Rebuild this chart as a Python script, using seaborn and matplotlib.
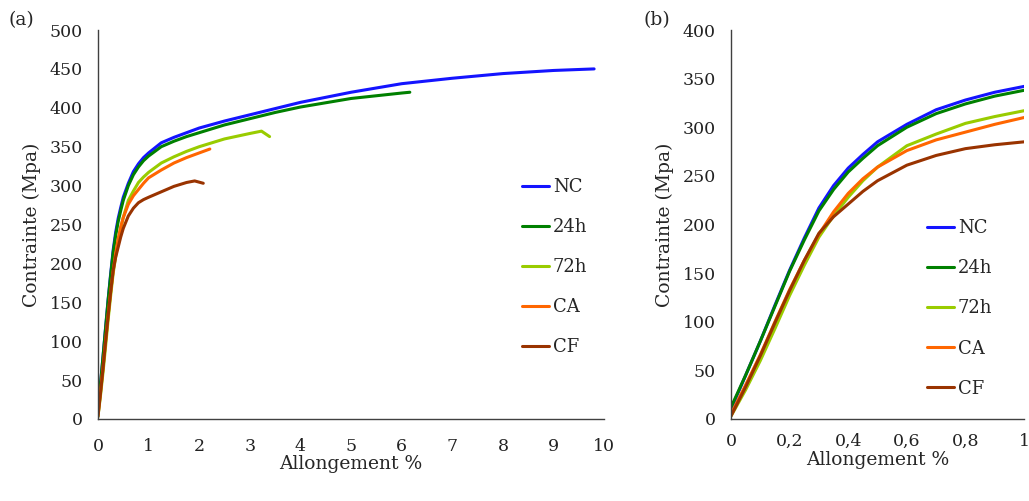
import pandas as pd
import matplotlib.pyplot as plt
import seaborn as sns

# strain (%) / stress (MPa)
nc_strain = [0, 0.05, 0.1, 0.15, 0.2, 0.25, 0.3, 0.35, 0.4, 0.45, 0.5, 0.6, 0.7, 0.8, 0.9, 1.0,
             1.25, 1.5, 1.75, 2, 2.5, 3, 3.5, 4, 5, 6, 7, 8, 9, 9.8]
nc_stress = [10, 45, 80, 117, 153, 186, 217, 240, 258, 272, 285, 303, 318, 328, 336, 342,
             355, 362, 368, 374, 383, 391, 399, 407, 420, 431, 438, 444, 448, 450]

h24_strain = [0, 0.05, 0.1, 0.15, 0.2, 0.25, 0.3, 0.35, 0.4, 0.45, 0.5, 0.6, 0.7, 0.8, 0.9, 1.0,
              1.25, 1.5, 1.75, 2, 2.5, 3, 3.5, 4, 5, 6, 6.16]
h24_stress = [12, 45, 80, 116, 152, 184, 214, 236, 254, 268, 281, 300, 314, 324, 332, 338,
              350, 357, 363, 368, 378, 386, 394, 401, 412, 419, 420]

h72_strain = [0, 0.05, 0.1, 0.15, 0.2, 0.25, 0.3, 0.35, 0.4, 0.45, 0.5, 0.6, 0.7, 0.8, 0.9, 1.0,
              1.25, 1.5, 1.75, 2, 2.5, 3, 3.23, 3.39]
h72_stress = [3, 30, 60, 93, 127, 158, 187, 209, 228, 245, 259, 281, 293, 304, 311, 317,
              329, 337, 344, 350, 360, 367, 370, 363]

ca_strain = [0, 0.05, 0.1, 0.15, 0.2, 0.25, 0.3, 0.35, 0.4, 0.45, 0.5, 0.6, 0.7, 0.8, 0.9, 1.0,
             1.25, 1.5, 1.75, 2, 2.21]
ca_stress = [5, 35, 66, 100, 133, 163, 190, 213, 232, 247, 259, 276, 287, 295, 303, 310,
             320, 329, 336, 342, 347]

cf_strain = [0, 0.05, 0.1, 0.15, 0.2, 0.25, 0.3, 0.35, 0.4, 0.45, 0.5, 0.6, 0.7, 0.8, 0.9, 1.0,
             1.25, 1.5, 1.75, 1.91, 2.08]
cf_stress = [3, 33, 65, 99, 132, 163, 191, 208, 221, 234, 245, 261, 271, 278, 282, 285,
             292, 299, 304, 306, 303]

series = ["NC", "24h", "72h", "CA", "CF"]
colors = ["#1414ff", "#008000", "#99cc00", "#ff6600", "#993300"]


def build_df():
    parts = []
    data = [(nc_strain, nc_stress), (h24_strain, h24_stress), (h72_strain, h72_stress),
            (ca_strain, ca_stress), (cf_strain, cf_stress)]
    for name, (x, y) in zip(series, data):
        parts.append(pd.DataFrame({"strain": x, "stress": y, "serie": name}))
    return pd.concat(parts, ignore_index=True)


def style_axis(ax, xpad, ypad, xlabelpad):
    sns.despine(ax=ax)
    for s in ["left", "bottom"]:
        ax.spines[s].set_color("#404040")
        ax.spines[s].set_linewidth(1.0)
    ax.tick_params(axis="both", direction="out", length=4, width=1, color="#404040",
                   labelsize=12.5, labelcolor="#222222")
    ax.tick_params(axis="x", pad=xpad)
    ax.tick_params(axis="y", pad=ypad)
    ax.set_ylabel("Contrainte (Mpa)", fontsize=13.5, labelpad=6)
    ax.set_xlabel("Allongement %", fontsize=13.5, labelpad=xlabelpad)


def draw(ax, df):
    sns.lineplot(data=df, x="strain", y="stress", hue="serie", palette=colors,
                 hue_order=series, estimator=None, sort=False, linewidth=2.2, ax=ax)


def main():
    sns.set_style("white")
    plt.rcParams["font.family"] = ["DejaVu Serif"]
    df = build_df()

    fig = plt.figure(figsize=(10.29, 5.01), dpi=100)
    ax1 = fig.add_axes([0.0952, 0.1637, 0.492, 0.7764])
    ax2 = fig.add_axes([0.7104, 0.1637, 0.2848, 0.7764])

    draw(ax1, df)
    ax1.set_xlim(0, 10)
    ax1.set_ylim(0, 500)
    ax1.set_xticks(range(0, 11))
    ax1.set_yticks(range(0, 501, 50))
    style_axis(ax1, 10, 7, 0)

    draw(ax2, df)
    ax2.set_xlim(0, 1)
    ax2.set_ylim(0, 400)
    ax2.set_xticks([0, 0.2, 0.4, 0.6, 0.8, 1])
    ax2.set_xticklabels(["0", "0,2", "0,4", "0,6", "0,8", "1"])
    ax2.set_yticks(range(0, 401, 50))
    style_axis(ax2, 6, 7, 1)

    for ax, anchor in [(ax1, (0.838, 0.62)), (ax2, (0.669, 0.513))]:
        ax.legend(loc="upper left", bbox_to_anchor=anchor, frameon=False, fontsize=13,
                  handlelength=1.5, handletextpad=0.2, labelspacing=1.22,
                  borderpad=0, borderaxespad=0)

    fig.text(0.008, 0.96, "(a)", fontsize=13.5, va="center")
    fig.text(0.625, 0.96, "(b)", fontsize=13.5, va="center")

    fig.savefig("out.png", dpi=100)
    plt.close(fig)


if __name__ == "__main__":
    main()
